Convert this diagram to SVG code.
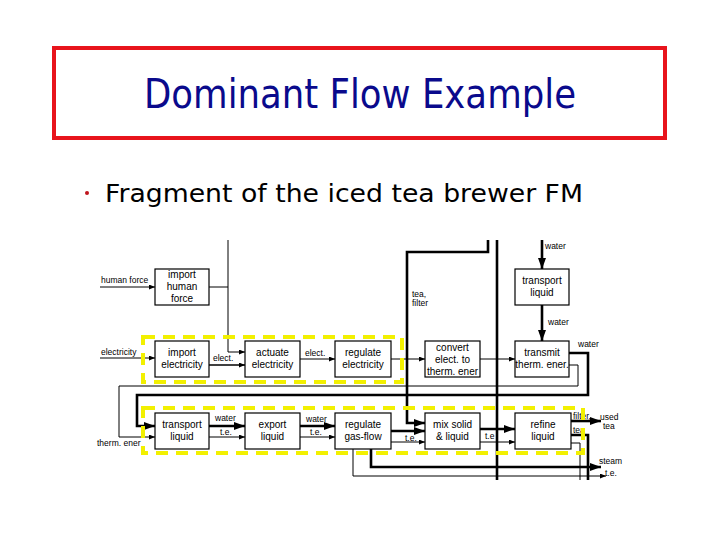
<svg xmlns="http://www.w3.org/2000/svg" width="720" height="540" viewBox="0 0 720 540">
<style>
.box{fill:#fff;stroke:#000;stroke-width:1.2}
.bt{font-family:"Liberation Sans",Arial,sans-serif;font-size:10px;fill:#000;text-anchor:middle}
.lb{font-family:"Liberation Sans",Arial,sans-serif;font-size:8.5px;fill:#000}
.thin{fill:none;stroke:#000;stroke-width:1}
.med{fill:none;stroke:#000;stroke-width:1.6}
.thick{fill:none;stroke:#000;stroke-width:2.6}
.yel{fill:none;stroke:#f2f000;stroke-width:4;stroke-dasharray:12 8}
</style>
<defs>
<marker id="a" markerUnits="userSpaceOnUse" markerWidth="6" markerHeight="5" refX="6" refY="2.5" orient="auto"><path d="M0,0 L6,2.5 L0,5 z" fill="#000"/></marker>
<marker id="A" markerUnits="userSpaceOnUse" markerWidth="11" markerHeight="8" refX="11" refY="4" orient="auto"><path d="M0,0 L11,4 L0,8 z" fill="#000"/></marker>
</defs>
<rect width="720" height="540" fill="#fff"/>
<g id="title">
<rect x="54" y="48" width="611" height="90" fill="#fff" stroke="#e8141c" stroke-width="4"/>
<text x="144" y="108" font-family="'DejaVu Sans',sans-serif" font-size="40" fill="#0a0a8c" textLength="432" lengthAdjust="spacingAndGlyphs">Dominant Flow Example</text>
</g>
<g id="bullet">
<circle cx="87" cy="193" r="2" fill="#c0141c"/>
<text x="105" y="202" font-family="'DejaVu Sans',sans-serif" font-size="25" fill="#000" textLength="478" lengthAdjust="spacingAndGlyphs">Fragment of the iced tea brewer FM</text>
</g>
<g id="connectors">
<path class="thin" d="M100,287 H155" marker-end="url(#a)"/>
<path class="thin" d="M209,287 H228"/>
<path class="thin" d="M228,240 V352 H245" marker-end="url(#a)"/>
<path class="thin" d="M100,358 H155" marker-end="url(#a)"/>
<path class="med" d="M209,365 H245" marker-end="url(#a)"/>
<path class="thin" d="M300,359 H335" marker-end="url(#a)"/>
<path class="thin" d="M391,359 H425" marker-end="url(#a)"/>
<path class="thin" d="M480,359 H515" marker-end="url(#a)"/>
<path class="thin" d="M569,365 H578 V386 H119 V437 H155" marker-end="url(#a)"/>
<path class="thick" d="M542,240 V269" marker-end="url(#A)"/>
<path class="thick" d="M542,305 V341" marker-end="url(#A)"/>
<path class="thick" d="M569,353 H588 V395 H137 V426 H155" marker-end="url(#A)"/>
<path class="thick" d="M488,240 V252 H407 V423 H425" marker-end="url(#A)"/>
<path class="thick" d="M497,240 V480"/>
<path class="thick" d="M209,426 H245" marker-end="url(#A)"/>
<path class="thick" d="M300,426 H335" marker-end="url(#A)"/>
<path class="thick" d="M391,431 H425" marker-end="url(#A)"/>
<path class="thick" d="M480,429 H515" marker-end="url(#A)"/>
<path class="thick" d="M571,421 H601" marker-end="url(#A)"/>
<path class="thick" d="M571,435 H588 V480"/>
<path class="thick" d="M371,449 V467 H601" marker-end="url(#A)"/>
<path class="thin" d="M209,437 H245" marker-end="url(#a)"/>
<path class="thin" d="M300,437 H335" marker-end="url(#a)"/>
<path class="thin" d="M391,442 H425" marker-end="url(#a)"/>
<path class="thin" d="M480,442 H515" marker-end="url(#a)"/>
<path class="thin" d="M571,443 H580 V480"/>
<path class="thin" d="M353,449 V476 H606" marker-end="url(#a)"/>
</g>
<g id="import-human-force"><rect class="box" x="155" y="269" width="54" height="36"/><text class="bt" x="182" y="278">import</text><text class="bt" x="182" y="290">human</text><text class="bt" x="182" y="302">force</text></g>
<g id="import-electricity"><rect class="box" x="155" y="341" width="54" height="36"/><text class="bt" x="182" y="356">import</text><text class="bt" x="182" y="368">electricity</text></g>
<g id="actuate-electricity"><rect class="box" x="245" y="341" width="55" height="36"/><text class="bt" x="272.5" y="356">actuate</text><text class="bt" x="272.5" y="368">electricity</text></g>
<g id="regulate-electricity"><rect class="box" x="335" y="341" width="56" height="36"/><text class="bt" x="363" y="356">regulate</text><text class="bt" x="363" y="368">electricity</text></g>
<g id="convert"><rect class="box" x="425" y="341" width="55" height="36"/><text class="bt" x="452.5" y="351">convert</text><text class="bt" x="452.5" y="363">elect. to</text><text class="bt" x="452.5" y="375">therm. ener</text></g>
<g id="transport-liquid-top"><rect class="box" x="515" y="269" width="54" height="36"/><text class="bt" x="542" y="284">transport</text><text class="bt" x="542" y="296">liquid</text></g>
<g id="transmit"><rect class="box" x="515" y="341" width="54" height="36"/><text class="bt" x="542" y="356">transmit</text><text class="bt" x="542" y="368">therm. ener.</text></g>
<g id="transport-liquid"><rect class="box" x="155" y="413" width="54" height="36"/><text class="bt" x="182" y="428">transport</text><text class="bt" x="182" y="440">liquid</text></g>
<g id="export-liquid"><rect class="box" x="245" y="413" width="55" height="36"/><text class="bt" x="272.5" y="428">export</text><text class="bt" x="272.5" y="440">liquid</text></g>
<g id="regulate-gas-flow"><rect class="box" x="335" y="413" width="56" height="36"/><text class="bt" x="363" y="428">regulate</text><text class="bt" x="363" y="440">gas-flow</text></g>
<g id="mix"><rect class="box" x="425" y="413" width="55" height="36"/><text class="bt" x="452.5" y="428">mix solid</text><text class="bt" x="452.5" y="440">&amp; liquid</text></g>
<g id="refine-liquid"><rect class="box" x="515" y="413" width="56" height="36"/><text class="bt" x="543" y="428">refine</text><text class="bt" x="543" y="440">liquid</text></g>
<g id="labels">
<text class="lb" x="101" y="283">human force</text>
<text class="lb" x="101" y="355">electricity</text>
<text class="lb" x="213" y="361">elect.</text>
<text class="lb" x="305" y="356">elect.</text>
<text class="lb" x="412" y="297">tea,</text>
<text class="lb" x="412" y="306">filter</text>
<text class="lb" x="545" y="249">water</text>
<text class="lb" x="548" y="325">water</text>
<text class="lb" x="578" y="347">water</text>
<text class="lb" x="97" y="446">therm. ener</text>
<text class="lb" x="215" y="421">water</text>
<text class="lb" x="220" y="435">t.e.</text>
<text class="lb" x="306" y="422">water</text>
<text class="lb" x="310" y="435">t.e.</text>
<text class="lb" x="405" y="441">t.e.</text>
<text class="lb" x="485" y="439">t.e</text>
<text class="lb" x="573" y="419">filter,</text>
<text class="lb" x="600" y="420">used</text>
<text class="lb" x="603" y="429">tea</text>
<text class="lb" x="573" y="433">tea</text>
<text class="lb" x="599" y="464">steam</text>
<text class="lb" x="605" y="476">t.e.</text>
</g>
<g id="highlights">
<rect class="yel" x="143" y="337" width="259" height="45"/>
<rect class="yel" x="143" y="408" width="440" height="45"/>
</g>
</svg>
